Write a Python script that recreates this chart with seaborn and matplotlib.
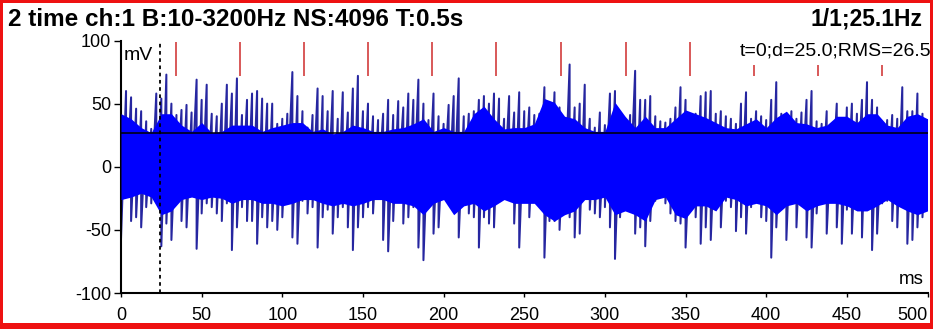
import numpy as np
import pandas as pd
import matplotlib
matplotlib.use("Agg")
import matplotlib.pyplot as plt
from matplotlib.patches import Rectangle
import seaborn as sns

sns.set_theme(style="ticks")
plt.rcParams["font.family"] = ["Liberation Sans", "DejaVu Sans"]

# ---- header texts ----
TITLE = "2 time ch:1 B:10-3200Hz NS:4096 T:0.5s"
PEAK_INFO = "1/1;25.1Hz"
CURSOR_INFO = "t=0;d=25.0;RMS=26.5"

# ---- waveform: per-column peak extremes (mV), one column every 3.125 ms ----
step_ms = 3.125
peak_hi = [56, 60, 55, 46, 44, 36, 30, 58, 54, 73, 50, 41, 45, 49, 43, 69, 53, 65, 42, 40,
           50, 65, 58, 70, 41, 53, 58, 60, 54, 50, 50, 34, 38, 42, 75, 56, 44, 31, 41, 62,
           56, 44, 60, 38, 59, 43, 62, 72, 44, 50, 40, 37, 42, 53, 41, 52, 47, 58, 53, 69,
           50, 37, 58, 40, 34, 49, 56, 70, 40, 42, 44, 53, 56, 50, 58, 54, 38, 56, 43, 59,
           44, 47, 41, 42, 63, 50, 59, 47, 36, 81, 47, 50, 65, 38, 31, 43, 33, 58, 60, 42,
           37, 41, 76, 53, 53, 56, 40, 36, 35, 38, 47, 63, 53, 29, 42, 56, 59, 60, 42, 44,
           40, 38, 34, 50, 59, 38, 44, 40, 37, 53, 67, 42, 40, 44, 38, 43, 53, 60, 36, 34,
           44, 31, 50, 38, 47, 50, 42, 53, 67, 53, 47, 34, 37, 41, 38, 63, 44, 44, 58, 42,
           37]
peak_lo = [-57, -21, -43, -40, -48, -32, -29, -27, -63, -45, -58, -29, -43, -48, -21, -65, -37, -29, -32, -37,
           -43, -29, -66, -48, -32, -43, -43, -61, -40, -48, -43, -50, -40, -21, -56, -61, -27, -37, -32, -64,
           -40, -34, -53, -40, -32, -48, -66, -48, -40, -32, -37, -21, -58, -67, -43, -16, -45, -40, -32, -64,
           -74, -32, -53, -48, -24, -27, -32, -56, -27, -37, -40, -64, -40, -45, -48, -27, -24, -21, -45, -64,
           -27, -40, -21, -27, -72, -43, -43, -50, -32, -40, -56, -53, -24, -34, -37, -40, -32, -48, -73, -40,
           -27, -24, -53, -48, -63, -43, -27, -21, -29, -37, -43, -45, -64, -32, -40, -61, -48, -58, -29, -48,
           -27, -32, -51, -40, -53, -32, -24, -40, -43, -72, -48, -29, -58, -18, -48, -27, -56, -64, -37, -29,
           -53, -21, -48, -61, -34, -53, -21, -56, -32, -66, -53, -29, -27, -43, -48, -29, -61, -58, -48, -40,
           -29]

# ---- dense body of the trace (mV), one value every 6.25 ms ----
core_step_ms = 6.25
core_hi = [42, 38, 31, 27, 42, 42, 33, 28, 35, 27, 28, 33, 33, 33, 28, 31, 33, 35, 35, 28,
           30, 26, 28, 33, 31, 28, 28, 30, 31, 34, 38, 28, 31, 28, 28, 42, 48, 38, 30, 31,
           31, 34, 54, 51, 40, 38, 31, 28, 28, 51, 40, 31, 40, 31, 31, 38, 45, 42, 39, 35,
           31, 30, 34, 38, 31, 39, 44, 35, 34, 31, 33, 40, 40, 35, 42, 42, 33, 31, 40, 42,
           38]
core_lo = [-26, -24, -21, -24, -38, -35, -26, -24, -26, -24, -25, -29, -26, -26, -29, -29, -31, -29, -26, -26,
           -29, -31, -29, -31, -29, -26, -26, -29, -29, -31, -38, -29, -26, -38, -31, -29, -35, -31, -26, -29,
           -29, -29, -38, -43, -38, -35, -26, -26, -24, -38, -35, -38, -43, -26, -24, -38, -41, -31, -31, -35,
           -24, -26, -31, -29, -31, -38, -31, -29, -35, -31, -29, -29, -31, -35, -35, -31, -26, -31, -35, -38,
           -35]

rms_mv = 26.5
cursor_ms = 24.2
harmonic_ms = [34.1, 73.8, 113.5, 153.1, 192.8, 232.5, 272.8, 313.1, 352.8, 392.4, 432.1, 471.8]
n_strong_harmonics = 9

x_ticks = [0, 50, 100, 150, 200, 250, 300, 350, 400, 450, 500]
y_ticks = [-100, -50, 0, 50, 100]

# ---- figure ----
W, H = 933, 329
fig = plt.figure(figsize=(W / 100, H / 100), dpi=100)
fig.patch.set_facecolor("white")
ax = fig.add_axes([121 / W, 1 - 293 / H, (927.5 - 121) / W, (293 - 40.5) / H])
ax.set_facecolor("white")

t = np.arange(len(peak_hi)) * step_ms
trace = pd.DataFrame({
    "t": np.repeat(t, 2),
    "mv": np.column_stack([peak_hi, peak_lo]).ravel(),
})
sns.lineplot(data=trace, x="t", y="mv", sort=False, estimator=None,
             color="#2626a0", lw=1.45, ax=ax, zorder=2)

tc = np.arange(len(core_hi)) * core_step_ms
ax.fill_between(tc, core_lo, core_hi, color="#0000ff", lw=0, zorder=3)

ax.axhline(rms_mv, color="black", lw=1.1, zorder=4)
ax.axvline(cursor_ms, color="black", lw=1.3, ls=(0, (2, 2)), zorder=5)

for i, hm in enumerate(harmonic_ms):
    top = 98.8 if i < n_strong_harmonics else 80.6
    ax.plot([hm, hm], [71.8, top], color="#d23c3c", lw=1.2, zorder=5,
            solid_capstyle="butt")

ax.set_xlim(0, 500)
ax.set_ylim(-100, 100)
ax.set_xticks(x_ticks, labels=[str(v) for v in x_ticks])
ax.set_yticks(y_ticks, labels=[str(v) for v in y_ticks])
ax.set_xlabel("")
ax.set_ylabel("")
sns.despine(ax=ax)
for side in ("left", "bottom"):
    ax.spines[side].set_color("black")
    ax.spines[side].set_linewidth(1.5)
ax.tick_params(axis="y", length=5, width=1, pad=2, labelsize=13, colors="black")
ax.tick_params(axis="x", length=3, width=1, pad=7, labelsize=13, colors="black")
narrow = ["Liberation Sans Narrow", "Liberation Sans", "DejaVu Sans"]
for lbl in ax.get_xticklabels() + ax.get_yticklabels():
    lbl.set_family(narrow)
ax.get_xticklabels()[-1].set_horizontalalignment("right")

ax.text(1.5, 88.5, "mV", ha="left", va="center", fontsize=14, color="black", zorder=6)
ax.text(497.5, -89, "ms", ha="right", va="center", fontsize=13.5, color="black", zorder=6)

fig.text(8 / W, 1 - 19 / H, TITLE, ha="left", va="center", fontsize=17.5,
         fontweight="bold", color="black")
fig.text(922 / W, 1 - 19 / H, PEAK_INFO, ha="right", va="center", fontsize=16.5,
         fontweight="bold", color="black")
fig.text(931 / W, 1 - 50.5 / H, CURSOR_INFO, ha="right", va="center", fontsize=14,
         color="black")

# red frame round the whole panel
red = "#ee1111"
for rect in [(0, 1 - 3 / H, 1, 3 / H), (0, 0, 3 / W, 1), (1 - 3 / W, 0, 3 / W, 1), (0, 0, 1, 6 / H)]:
    fig.add_artist(Rectangle(rect[:2], rect[2], rect[3], transform=fig.transFigure,
                             facecolor=red, edgecolor="none", zorder=10))

fig.savefig("out.png", dpi=100)
